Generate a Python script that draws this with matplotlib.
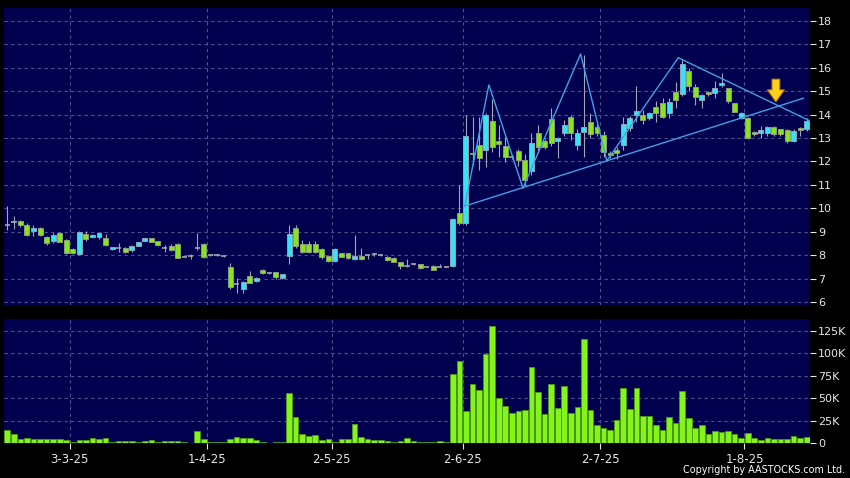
import numpy as np
import matplotlib
matplotlib.use("Agg")
import matplotlib.pyplot as plt

# daily candles (mid Feb 2025 -> mid Aug 2025)
opens = [9.29, 9.40, 9.47, 9.28, 9.04, 9.15, 8.76, 8.62, 8.93, 8.65,
         8.28, 8.04, 8.89, 8.76, 8.79, 8.72, 8.25, 8.29, 8.32, 8.22,
         8.40, 8.62, 8.72, 8.60, 8.32, 8.39, 8.48, 7.93, 7.96, 8.32,
         8.46, 7.99, 7.99, 7.96, 7.48, 6.75, 6.56, 7.12, 6.90, 7.37,
         7.23, 7.27, 7.04, 7.98, 9.17, 8.46, 8.46, 8.46, 8.26, 7.96,
         7.76, 8.08, 8.08, 7.82, 7.98, 8.01, 8.04, 8.01, 7.94, 7.87,
         7.69, 7.54, 7.62, 7.61, 7.51, 7.54, 7.51, 7.51, 7.54, 9.79,
         9.36, 12.38, 12.71, 12.49, 13.74, 12.89, 12.68, 12.18, 12.46, 12.06,
         11.59, 13.20, 12.86, 13.80, 12.87, 13.20, 13.89, 12.70, 13.27, 13.70,
         13.49, 13.13, 12.37, 12.49, 12.70, 13.42, 13.98, 13.98, 13.84, 14.34,
         14.48, 14.06, 14.98, 14.87, 15.87, 15.19, 14.62, 14.98, 14.91, 15.25,
         15.12, 14.48, 13.87, 13.84, 13.24, 13.20, 13.20, 13.46, 13.38, 13.34,
         12.87, 13.42, 13.37]
closes = [9.29, 9.47, 9.28, 8.86, 9.17, 8.85, 8.53, 8.85, 8.57, 8.10,
          8.10, 8.98, 8.68, 8.86, 8.93, 8.42, 8.33, 8.29, 8.15, 8.39,
          8.55, 8.72, 8.57, 8.43, 8.32, 8.22, 7.89, 7.93, 7.96, 8.32,
          7.93, 7.99, 7.99, 7.96, 6.65, 6.75, 6.84, 6.82, 7.01, 7.23,
          7.23, 7.05, 7.18, 8.89, 8.38, 8.15, 8.12, 8.12, 7.91, 7.76,
          8.26, 7.93, 7.87, 7.98, 7.82, 8.01, 8.04, 8.01, 7.79, 7.72,
          7.55, 7.54, 7.62, 7.44, 7.51, 7.37, 7.51, 7.51, 9.53, 9.36,
          13.10, 12.32, 12.14, 13.98, 12.63, 12.75, 12.18, 12.18, 12.06, 11.21,
          12.80, 12.63, 12.62, 12.80, 12.99, 13.56, 13.20, 13.23, 13.46, 13.17,
          13.20, 12.42, 12.26, 12.37, 13.59, 13.84, 14.17, 13.77, 14.06, 14.08,
          13.91, 14.55, 14.62, 16.15, 15.22, 14.77, 14.83, 14.88, 15.15, 15.34,
          14.60, 14.13, 14.06, 12.98, 13.17, 13.34, 13.46, 13.16, 13.16, 12.87,
          13.30, 13.36, 13.73]
highs = [10.10, 9.67, 9.50, 9.37, 9.29, 9.20, 8.80, 8.95, 8.98, 8.70,
         8.30, 9.04, 9.04, 8.90, 8.95, 8.90, 8.36, 8.52, 8.35, 8.45,
         8.58, 8.74, 8.74, 8.62, 8.45, 8.48, 8.50, 7.95, 8.05, 8.96,
         8.50, 8.05, 8.03, 8.00, 7.65, 7.01, 6.90, 7.32, 7.05, 7.40,
         7.27, 7.30, 7.20, 9.29, 9.29, 8.65, 8.60, 8.62, 8.30, 8.00,
         8.30, 8.10, 8.10, 8.86, 8.29, 8.05, 8.10, 8.04, 7.98, 7.90,
         7.72, 7.82, 7.68, 7.64, 7.55, 7.58, 7.60, 7.55, 9.60, 11.00,
         14.00, 13.91, 13.91, 14.05, 14.66, 13.56, 13.06, 12.30, 12.55, 12.30,
         13.20, 13.56, 12.95, 14.27, 13.05, 13.77, 14.00, 13.40, 16.55, 14.06,
         13.60, 13.30, 12.45, 12.60, 13.90, 13.95, 15.20, 14.20, 14.10, 14.60,
         14.70, 14.70, 15.40, 16.36, 16.00, 15.30, 14.90, 15.00, 15.45, 15.76,
         15.15, 14.50, 14.10, 13.90, 13.30, 13.50, 13.50, 13.50, 13.40, 13.40,
         13.40, 13.45, 13.85]
lows = [9.07, 9.10, 9.21, 8.83, 8.82, 8.80, 8.43, 8.50, 8.55, 8.05,
        8.05, 8.02, 8.62, 8.72, 8.70, 8.38, 8.20, 8.15, 8.10, 8.15,
        8.38, 8.60, 8.55, 8.38, 8.15, 8.18, 7.87, 7.90, 7.82, 8.22,
        7.87, 7.97, 7.95, 7.92, 6.56, 6.40, 6.40, 6.80, 6.85, 7.20,
        7.18, 7.00, 7.00, 7.62, 8.30, 8.09, 8.08, 8.10, 7.85, 7.70,
        7.72, 7.90, 7.82, 7.80, 7.80, 7.85, 7.95, 7.97, 7.77, 7.70,
        7.42, 7.50, 7.58, 7.42, 7.48, 7.35, 7.48, 7.48, 7.48, 9.30,
        9.30, 11.85, 11.64, 11.78, 12.40, 12.20, 11.99, 12.10, 11.80, 11.00,
        11.40, 12.35, 12.55, 12.65, 12.15, 13.10, 12.90, 12.50, 12.20, 13.00,
        13.10, 12.20, 12.15, 12.10, 12.50, 13.30, 13.70, 13.60, 13.75, 13.70,
        13.85, 13.85, 14.30, 14.80, 15.00, 14.40, 14.30, 14.80, 14.70, 15.19,
        14.50, 14.10, 13.80, 12.95, 13.10, 13.00, 13.10, 13.10, 13.10, 12.80,
        12.85, 13.10, 13.30]
volumes = [14.8, 10.0, 5.2, 5.5, 5.2, 4.8, 4.8, 5.2, 4.4, 3.3,
           1.5, 4.0, 4.0, 5.9, 4.8, 6.3, 1.5, 2.2, 2.2, 2.6,
           1.5, 2.2, 3.3, 1.5, 2.6, 2.6, 2.6, 1.1, 0.7, 14.0,
           4.4, 1.5, 1.5, 1.5, 4.4, 6.7, 5.5, 6.3, 4.0, 1.9,
           0.7, 1.1, 1.1, 55.5, 28.9, 10.4, 8.5, 9.3, 4.0, 4.4,
           1.1, 4.4, 4.4, 21.1, 7.4, 4.4, 3.3, 4.0, 2.6, 1.1,
           3.0, 5.5, 3.0, 1.9, 1.9, 1.1, 2.2, 1.1, 77.0, 91.5,
           36.3, 65.5, 58.9, 99.6, 130.7, 50.0, 41.0, 33.3, 36.3, 37.4,
           84.8, 57.0, 33.0, 66.0, 39.6, 64.0, 33.3, 40.7, 116.3, 37.4,
           20.0, 16.7, 14.8, 25.5, 61.4, 38.1, 61.4, 30.0, 30.7, 20.3,
           14.4, 29.6, 22.2, 58.5, 27.8, 17.4, 20.7, 10.7, 14.0, 12.6,
           13.3, 10.0, 5.9, 11.9, 5.9, 4.0, 5.5, 5.2, 5.2, 5.2,
           7.8, 5.9, 7.0]  # thousands

# first trading day of each month (candle index) and its label
month_idx = [10, 31, 50, 70, 91, 113]
month_lbl = ['3-3-25', '1-4-25', '2-5-25', '2-6-25', '2-7-25', '1-8-25']

# hand drawn lines on the chart (candle index, price)
zigzag_x = [69.8, 73.5, 78.7, 87.5, 91.5, 102.4, 122.5]
zigzag_y = [10.07, 15.27, 10.86, 16.59, 12.03, 16.43, 13.73]
support_x = [70.0, 121.5]
support_y = [10.11, 14.70]
arrow_x, arrow_top, arrow_tip = 117.3, 15.51, 14.55

o = np.array(opens)
c = np.array(closes)
h = np.array(highs)
l = np.array(lows)
v = np.array(volumes) * 1000
x = np.arange(len(o))

navy = '#00004e'
cyan = '#35e3f2'
green = '#86e61e'
gridc = '#50508a'
txt = '#e6e6e6'

fig = plt.figure(figsize=(8.5, 4.78), dpi=100, facecolor='black')
ax = fig.add_axes([0.0047, 0.3619, 0.9482, 0.6213])
axv = fig.add_axes([0.0047, 0.0726, 0.9482, 0.2600])

for a in (ax, axv):
    a.set_facecolor(navy)
    for s in a.spines.values():
        s.set_visible(False)
    a.set_xlim(-0.5, 122.5)
    a.set_xticks([m - 0.5 for m in month_idx])
    a.grid(True, color=gridc, linestyle=(0, (3, 3)), linewidth=0.8)
    a.set_axisbelow(True)
    a.yaxis.tick_right()
    a.tick_params(axis='y', colors=txt, labelsize=8, length=4, width=0.8, pad=2)

# price panel
up = c > o
dn = c < o
eq = c == o
ax.vlines(x, l, h, color='#a4a4b4', linewidth=0.8, zorder=2)
ax.bar(x[up], (c - o)[up], bottom=o[up], width=0.76, color=cyan,
       edgecolor='#8aa6b8', linewidth=0.7, zorder=3)
ax.bar(x[dn], (o - c)[dn], bottom=c[dn], width=0.76, color=green,
       edgecolor='#8c9c78', linewidth=0.7, zorder=3)
ax.hlines(o[eq], x[eq] - 0.4, x[eq] + 0.4, color='#a4a4b4', linewidth=1.2, zorder=3)

ax.plot(zigzag_x, zigzag_y, color='#3da2e6', linewidth=1.0, zorder=4)
ax.plot(support_x, support_y, color='#3da2e6', linewidth=1.0, zorder=4)
ax.annotate('', xy=(arrow_x, arrow_tip), xytext=(arrow_x, arrow_top),
            arrowprops=dict(facecolor='#ffd01c', edgecolor='#c98a00', width=5.5,
                            headwidth=12, headlength=8.5, shrink=0, linewidth=0.8),
            zorder=5)

ax.set_ylim(5.87, 18.55)
ax.set_yticks(range(6, 19))
ax.tick_params(axis='x', length=0, labelbottom=False)

# volume panel
axv.bar(x, v, width=0.86, color='#84f51a', edgecolor='#4e9a14', linewidth=0.6, zorder=3)
axv.set_ylim(0, 138000)
axv.set_yticks([0, 25000, 50000, 75000, 100000, 125000])
axv.set_yticklabels(['0', '25K', '50K', '75K', '100K', '125K'])
axv.set_xticklabels(month_lbl)
axv.tick_params(axis='x', colors=txt, labelsize=8.5, length=4, width=0.8, pad=3)

fig.text(0.994, 0.006, 'Copyright by AASTOCKS.com Ltd.', color='white',
         fontsize=6.9, ha='right', va='bottom')

fig.savefig('out.png', dpi=100, facecolor='black')
